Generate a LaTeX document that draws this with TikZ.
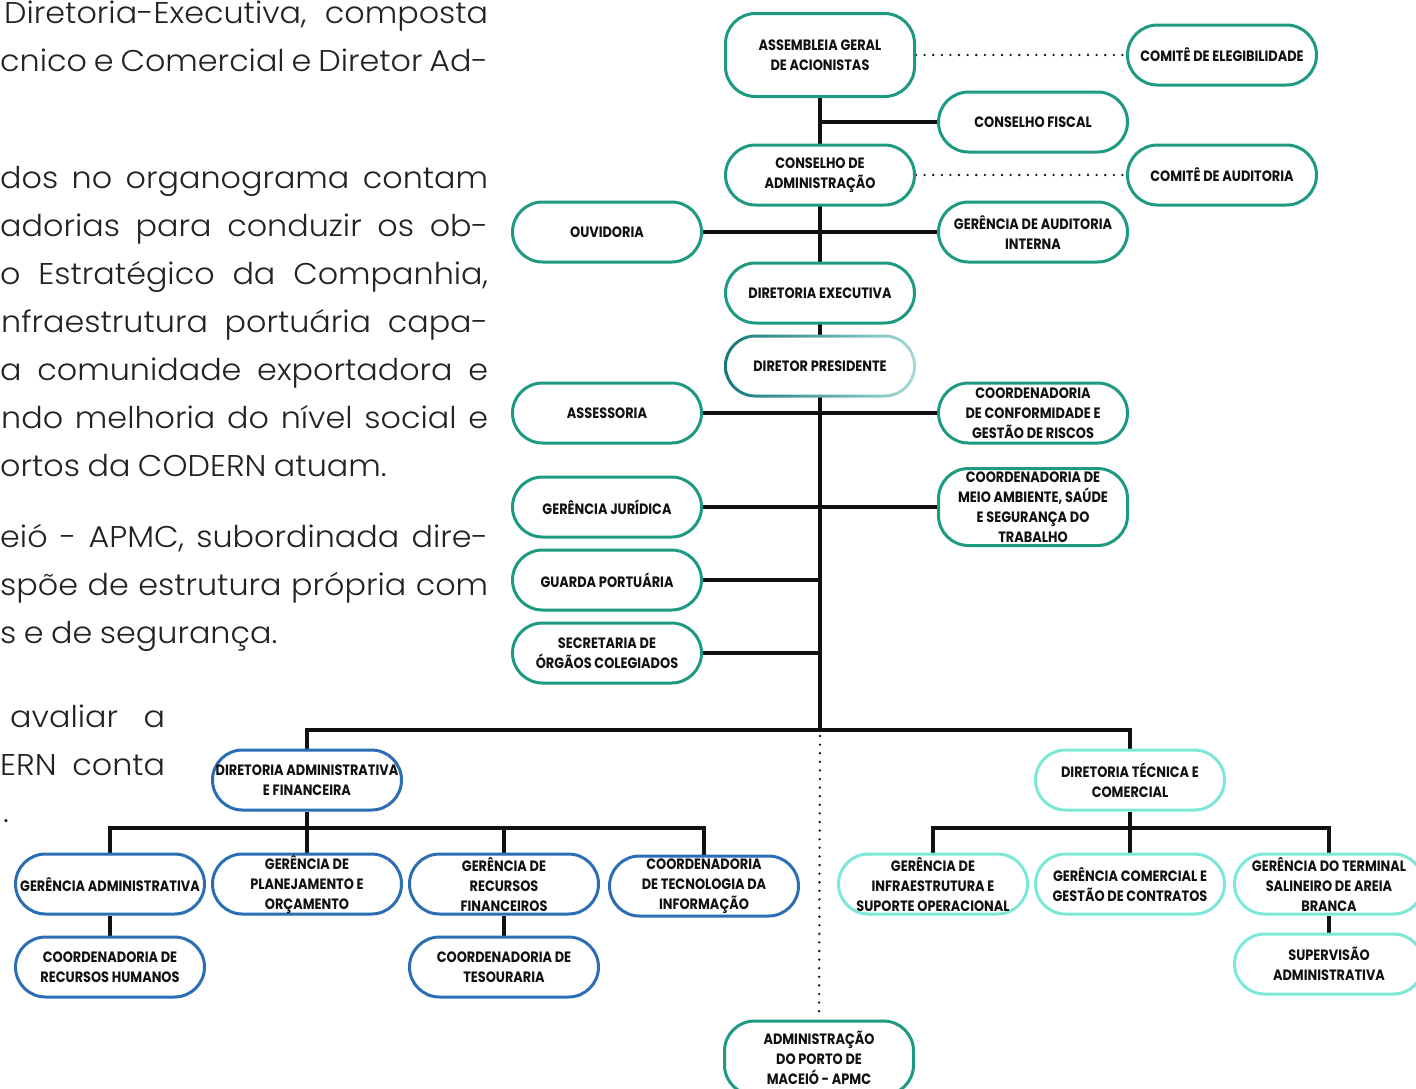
\documentclass[tikz,border=0pt]{standalone}
\usepackage{fontspec}
\setmainfont{Poppins}
\newfontfamily\bodyfont{Poppins Light}[FakeStretch=1.06]
\newfontfamily\nodefont{Poppins}[FakeStretch=0.86]
\usetikzlibrary{backgrounds}
\definecolor{grn}{RGB}{30,154,130}
\definecolor{blu}{RGB}{44,110,180}
\definecolor{cya}{RGB}{124,232,216}
\definecolor{dpl}{RGB}{18,118,120}
\definecolor{dpr}{RGB}{165,220,216}
\definecolor{ink}{RGB}{17,17,17}
\definecolor{bodyc}{RGB}{34,34,34}
\newcommand\bodysetup{\bodyfont\fontsize{30}{48}\selectfont\spaceskip=0.25em plus 1.5em minus 0.05em\relax}
\begin{document}
\begin{tikzpicture}[x=1pt,y=-1pt,
  box/.style={draw=#1, line width=3pt, rounded corners=30pt, minimum width=189pt,
    minimum height=60pt, fill=white, align=center, inner xsep=1pt, inner ysep=0pt,
    font=\nodefont\bfseries\fontsize{15}{20}\selectfont, text=ink},
  box/.default=grn,
  conn/.style={line width=3.2pt, draw=ink},
  dotl/.style={line width=2.6pt, draw=ink, dash pattern=on 0pt off 8.6pt, line cap=round},
  body/.style={anchor=base west, inner sep=0pt, font=\bodysetup, text=bodyc}
]
\useasboundingbox (0,0) rectangle (1416,1088);
\clip (0,0) rectangle (1416,1088);

% body text (clipped page text)
\node[body] (t1) at (4,23) {\makebox[484pt][s]{Diretoria-Executiva, composta}};
\node[body] (t2) at (0,71) {\makebox[488pt][s]{cnico e Comercial e Diretor Ad-}};
\node[body] (t3) at (0,188) {\makebox[488pt][s]{dos no organograma contam}};
\node[body] (t4) at (0,236) {\makebox[488pt][s]{adorias para conduzir os ob-}};
\node[body] (t5) at (0,284) {\makebox[488pt][s]{o Estratégico da Companhia,}};
\node[body] (t6) at (1,332) {\makebox[487pt][s]{nfraestrutura portuária capa-}};
\node[body] (t7) at (0,380) {\makebox[488pt][s]{a comunidade exportadora e}};
\node[body] (t8) at (1,428) {\makebox[487pt][s]{ndo melhoria do nível social e}};
\node[body] (t9) at (0,476) {ortos da CODERN atuam.};
\node[body] (t10) at (0,547) {\makebox[488pt][s]{eió - APMC, subordinada dire-}};
\node[body] (t11) at (0,595) {\makebox[488pt][s]{spõe de estrutura própria com}};
\node[body] (t12) at (0,643) {s e de segurança.};
\node[body] (t13) at (10,727) {\makebox[155pt][s]{avaliar a}};
\node[body] (t14) at (0,775) {\makebox[165pt][s]{ERN conta}};
\node[body] (t15) at (3,822) {.};

% nodes
\node[box, minimum height=83pt] (ag) at (820,55) {ASSEMBLEIA GERAL\\DE ACIONISTAS};
\node[box] (ce) at (1222,55) {COMITÊ DE ELEGIBILIDADE};
\node[box] (cf) at (1033,122) {CONSELHO FISCAL};
\node[box] (ca) at (820,175) {CONSELHO DE\\ADMINISTRAÇÃO};
\node[box] (cau) at (1222,175) {COMITÊ DE AUDITORIA};
\node[box] (ouv) at (607,232) {OUVIDORIA};
\node[box] (gai) at (1033,232) {GERÊNCIA DE AUDITORIA\\INTERNA};
\node[box] (de) at (820,293) {DIRETORIA EXECUTIVA};
\node[box, draw=none, fill=none] (dp) at (820,366) {DIRETOR PRESIDENTE};
\node[box] (ass) at (607,413) {ASSESSORIA};
\node[box] (ccr) at (1033,413) {COORDENADORIA\\DE CONFORMIDADE E\\GESTÃO DE RISCOS};
\node[box] (gj) at (607,507) {GERÊNCIA JURÍDICA};
\node[box, minimum height=77pt] (cma) at (1033,507) {COORDENADORIA DE\\MEIO AMBIENTE, SAÚDE\\E SEGURANÇA DO\\TRABALHO};
\node[box] (gp) at (607,580) {GUARDA PORTUÁRIA};
\node[box] (soc) at (607,653) {SECRETARIA DE\\ÓRGÃOS COLEGIADOS};
\node[box=blu] (daf) at (307,780) {DIRETORIA ADMINISTRATIVA\\E FINANCEIRA};
\node[box=cya] (dtc) at (1130,780) {DIRETORIA TÉCNICA E\\COMERCIAL};
\node[box=blu] (ga) at (110,884) {GERÊNCIA ADMINISTRATIVA};
\node[box=blu] (gpo) at (307,884) {GERÊNCIA DE\\PLANEJAMENTO E\\ORÇAMENTO};
\node[box=blu] (grf) at (504,884) {GERÊNCIA DE\\RECURSOS\\FINANCEIROS};
\node[box=blu] (cti) at (704,886) {COORDENADORIA\\DE TECNOLOGIA DA\\INFORMAÇÃO};
\node[box=blu] (crh) at (110,967) {COORDENADORIA DE\\RECURSOS HUMANOS};
\node[box=blu] (cte) at (504,967) {COORDENADORIA DE\\TESOURARIA};
\node[box=cya] (gis) at (933,884) {GERÊNCIA DE\\INFRAESTRUTURA E\\SUPORTE OPERACIONAL};
\node[box=cya] (gcc) at (1130,884) {GERÊNCIA COMERCIAL E\\GESTÃO DE CONTRATOS};
\node[box=cya] (gts) at (1329,884) {GERÊNCIA DO TERMINAL\\SALINEIRO DE AREIA\\BRANCA};
\node[box=cya] (sa) at (1329,964) {SUPERVISÃO\\ADMINISTRATIVA};
\node[box, minimum height=74pt] (apmc) at (819,1058) {ADMINISTRAÇÃO\\DO PORTO DE\\MACEIÓ - APMC};

\coordinate (j) at (820,730);
\coordinate (b) at (307,828);
\coordinate (c) at (1130,828);

\begin{scope}[on background layer]
\fill[white] (0,0) rectangle (1416,1088);
\draw[conn] (ag) -- (j);
\draw[conn] (cf) -- (cf -| ag);
\draw[conn] (ouv) -- (gai);
\draw[conn] (ass) -- (ccr);
\draw[conn] (gj) -- (cma);
\draw[conn] (gp) -- (gp -| j);
\draw[conn] (soc) -- (soc -| j);
\draw[dotl] (ag.east) -- (ce.west);
\draw[dotl] (ca.east) -- (cau.west);
\draw[conn] (daf) |- (j) -| (dtc);
\draw[dotl] ([yshift=-6pt]j) -- (apmc.north);
\draw[conn] (daf) -- (gpo);
\draw[conn] (ga) |- (b) -| (cti);
\draw[conn] (grf) -- (grf |- b);
\draw[conn] (ga) -- (crh);
\draw[conn] (grf) -- (cte);
\draw[conn] (dtc) -- (gcc);
\draw[conn] (gis) |- (c) -| (gts);
\draw[conn] (gts) -- (sa);
\shade[left color=dpl, right color=dpr, rounded corners=31.5pt] (dp.south west) rectangle (dp.north east);
\fill[white, rounded corners=28.5pt] ([xshift=3pt,yshift=3pt]dp.south west) rectangle ([xshift=-3pt,yshift=-3pt]dp.north east);
\end{scope}
\end{tikzpicture}
\end{document}
